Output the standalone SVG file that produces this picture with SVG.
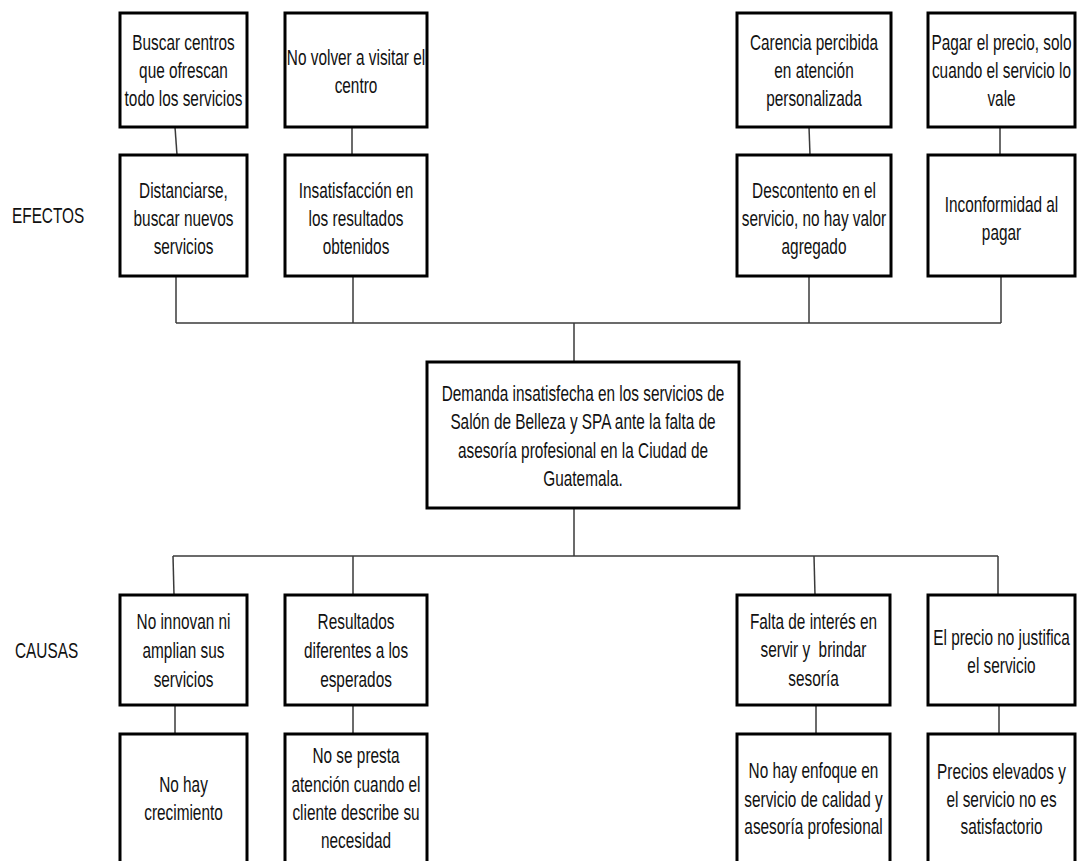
<svg xmlns="http://www.w3.org/2000/svg" width="1077" height="861" viewBox="0 0 1077 861">
<style>
.bx{fill:#fff;stroke:#000;stroke-width:3}
.t{font-family:"Liberation Sans",Arial,sans-serif;font-size:21.5px;fill:#111;text-anchor:middle}
.lbl{font-family:"Liberation Sans",Arial,sans-serif;font-size:21.5px;fill:#111}
.c{stroke:#3a3a3a;stroke-width:1.5;fill:none}
</style>
<rect width="1077" height="861" fill="#fff"/>
<g id="connectors">
<line class="c" x1="175" y1="127" x2="177" y2="155"/>
<line class="c" x1="352" y1="127" x2="352" y2="155"/>
<line class="c" x1="809" y1="127" x2="810" y2="155"/>
<line class="c" x1="1000" y1="127" x2="1000" y2="155"/>
<line class="c" x1="176" y1="276" x2="176" y2="323"/>
<line class="c" x1="353" y1="276" x2="353" y2="323"/>
<line class="c" x1="809" y1="276" x2="809" y2="323"/>
<line class="c" x1="1001" y1="276" x2="1001" y2="323"/>
<line class="c" x1="176" y1="323" x2="1001" y2="323"/>
<line class="c" x1="574" y1="323" x2="574" y2="362"/>
<line class="c" x1="574" y1="508" x2="574" y2="556"/>
<line class="c" x1="173" y1="556" x2="998" y2="556"/>
<line class="c" x1="173" y1="556" x2="174" y2="595"/>
<line class="c" x1="353" y1="556" x2="353" y2="595"/>
<line class="c" x1="814" y1="556" x2="815" y2="595"/>
<line class="c" x1="998" y1="556" x2="998" y2="595"/>
<line class="c" x1="175" y1="705" x2="175" y2="734"/>
<line class="c" x1="353" y1="705" x2="353" y2="734"/>
<line class="c" x1="816" y1="705" x2="816" y2="734"/>
<line class="c" x1="999" y1="705" x2="999" y2="734"/>
</g>
<g id="labels">
<text class="lbl" transform="translate(12,0) scale(0.715,1)" x="0" y="223">EFECTOS</text>
<text class="lbl" transform="translate(15,0) scale(0.715,1)" x="0" y="658">CAUSAS</text>
</g>
<g id="e1">
<rect class="bx" x="120" y="13" width="127" height="114"/>
<text class="t" transform="translate(183.5,0) scale(0.715,1)"><tspan x="0" y="50">Buscar centros</tspan><tspan x="0" y="78">que ofrescan</tspan><tspan x="0" y="106">todo los servicios</tspan></text>
</g>
<g id="e2">
<rect class="bx" x="285" y="13" width="142" height="114"/>
<text class="t" transform="translate(356,0) scale(0.715,1)"><tspan x="0" y="65">No volver a visitar el</tspan><tspan x="0" y="93">centro</tspan></text>
</g>
<g id="e3">
<rect class="bx" x="737" y="13" width="154" height="114"/>
<text class="t" transform="translate(814,0) scale(0.715,1)"><tspan x="0" y="50">Carencia percibida</tspan><tspan x="0" y="78">en atención</tspan><tspan x="0" y="106">personalizada</tspan></text>
</g>
<g id="e4">
<rect class="bx" x="928" y="13" width="147" height="114"/>
<text class="t" transform="translate(1001.5,0) scale(0.715,1)"><tspan x="0" y="50">Pagar el precio, solo</tspan><tspan x="0" y="78">cuando el servicio lo</tspan><tspan x="0" y="106">vale</tspan></text>
</g>
<g id="e5">
<rect class="bx" x="120" y="155" width="127" height="121"/>
<text class="t" transform="translate(183.5,0) scale(0.715,1)"><tspan x="0" y="198">Distanciarse,</tspan><tspan x="0" y="226">buscar nuevos</tspan><tspan x="0" y="254">servicios</tspan></text>
</g>
<g id="e6">
<rect class="bx" x="285" y="155" width="142" height="121"/>
<text class="t" transform="translate(356,0) scale(0.715,1)"><tspan x="0" y="198">Insatisfacción en</tspan><tspan x="0" y="226">los resultados</tspan><tspan x="0" y="254">obtenidos</tspan></text>
</g>
<g id="e7">
<rect class="bx" x="737" y="155" width="154" height="121"/>
<text class="t" transform="translate(814,0) scale(0.715,1)"><tspan x="0" y="198">Descontento en el</tspan><tspan x="0" y="226">servicio, no hay valor</tspan><tspan x="0" y="254">agregado</tspan></text>
</g>
<g id="e8">
<rect class="bx" x="928" y="155" width="147" height="121"/>
<text class="t" transform="translate(1001.5,0) scale(0.715,1)"><tspan x="0" y="212">Inconformidad al</tspan><tspan x="0" y="240">pagar</tspan></text>
</g>
<g id="center">
<rect class="bx" x="427" y="362" width="312" height="146"/>
<text class="t" transform="translate(583,0) scale(0.715,1)"><tspan x="0" y="401">Demanda insatisfecha en los servicios de</tspan><tspan x="0" y="429.5">Salón de Belleza y SPA ante la falta de</tspan><tspan x="0" y="458">asesoría profesional en la Ciudad de</tspan><tspan x="0" y="486.5">Guatemala.</tspan></text>
</g>
<g id="c1">
<rect class="bx" x="120" y="595" width="127" height="110"/>
<text class="t" transform="translate(183.5,0) scale(0.715,1)"><tspan x="0" y="629">No innovan ni</tspan><tspan x="0" y="658">amplian sus</tspan><tspan x="0" y="687">servicios</tspan></text>
</g>
<g id="c2">
<rect class="bx" x="285" y="595" width="142" height="110"/>
<text class="t" transform="translate(356,0) scale(0.715,1)"><tspan x="0" y="629">Resultados</tspan><tspan x="0" y="658">diferentes a los</tspan><tspan x="0" y="687">esperados</tspan></text>
</g>
<g id="c3">
<rect class="bx" x="737" y="595" width="153" height="110"/>
<text class="t" xml:space="preserve" transform="translate(813.5,0) scale(0.715,1)"><tspan x="0" y="629">Falta de interés en</tspan><tspan x="0" y="657">servir y  brindar</tspan><tspan x="0" y="686">sesoría</tspan></text>
</g>
<g id="c4">
<rect class="bx" x="928" y="595" width="147" height="110"/>
<text class="t" transform="translate(1001.5,0) scale(0.715,1)"><tspan x="0" y="645">El precio no justifica</tspan><tspan x="0" y="673">el servicio</tspan></text>
</g>
<g id="c5">
<rect class="bx" x="120" y="734" width="127" height="134"/>
<text class="t" transform="translate(183.5,0) scale(0.715,1)"><tspan x="0" y="792">No hay</tspan><tspan x="0" y="820">crecimiento</tspan></text>
</g>
<g id="c6">
<rect class="bx" x="285" y="734" width="142" height="134"/>
<text class="t" transform="translate(356,0) scale(0.715,1)"><tspan x="0" y="763">No se presta</tspan><tspan x="0" y="792">atención cuando el</tspan><tspan x="0" y="820">cliente describe su</tspan><tspan x="0" y="848">necesidad</tspan></text>
</g>
<g id="c7">
<rect class="bx" x="737" y="734" width="153" height="134"/>
<text class="t" transform="translate(813.5,0) scale(0.715,1)"><tspan x="0" y="778">No hay enfoque en</tspan><tspan x="0" y="807">servicio de calidad y</tspan><tspan x="0" y="834">asesoría profesional</tspan></text>
</g>
<g id="c8">
<rect class="bx" x="928" y="734" width="147" height="134"/>
<text class="t" transform="translate(1001.5,0) scale(0.715,1)"><tspan x="0" y="779">Precios elevados y</tspan><tspan x="0" y="807">el servicio no es</tspan><tspan x="0" y="834">satisfactorio</tspan></text>
</g>
</svg>
